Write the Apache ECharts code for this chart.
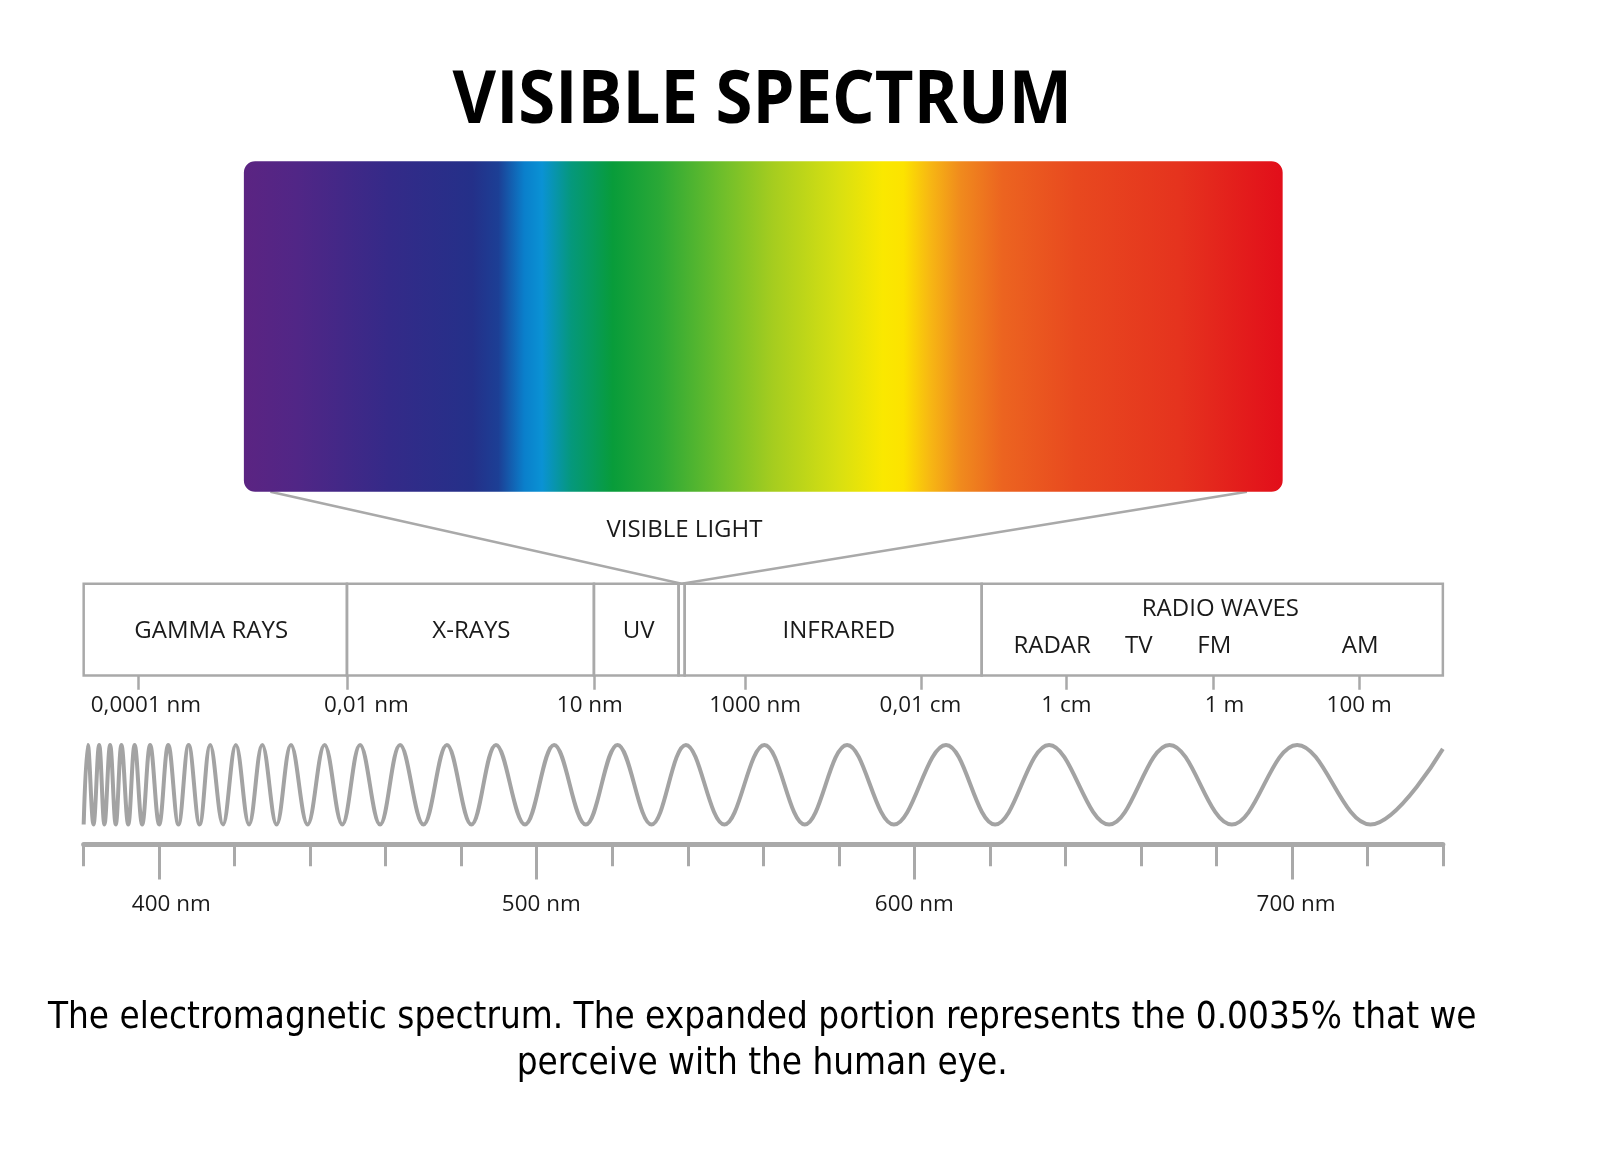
<!DOCTYPE html>
<html><head><meta charset="utf-8">
<script src="https://cdn.jsdelivr.net/npm/echarts@6/dist/echarts.min.js"></script>
<style>html,body{margin:0;padding:0;background:#fff}#c{width:1600px;height:1153px}</style>
</head><body><div id="c"></div><script>
// ---------- data ----------
const titleText = 'VISIBLE SPECTRUM';
const captionLines = ['The electromagnetic spectrum. The expanded portion represents the 0.0035% that we', 'perceive with the human eye.'];
const visibleLabel = 'VISIBLE LIGHT';

// colour stops across the expanded (visible) band
const spectrumOffsets = [0, 0.05, 0.14, 0.22, 0.245, 0.27, 0.287, 0.315, 0.355, 0.40, 0.46, 0.51, 0.57, 0.615, 0.635, 0.66, 0.69, 0.73, 0.80, 0.90, 1];
const spectrumColors = ['#5b2482', '#512686', '#342a88', '#243089', '#1c3f95', '#0a7fcb', '#0a92d4', '#05987c', '#089c3a', '#2aa836', '#6ebe2b', '#a6cd1f', '#d6df12', '#fae800', '#fce300', '#f7b813', '#f08a1d', '#ec6420', '#e8491f', '#e5331e', '#e20e1a'];
// where the "zoom" lines leave the spectrum (fraction of its width)
const zoomAnchors = [0.0255, 0.9656];

// electromagnetic bands on a 0-100 position scale
const bandNames = ['GAMMA RAYS', 'X-RAYS', 'UV', '', 'INFRARED', 'RADIO WAVES'];
const bandStart = [0, 19.37, 37.54, 43.77, 44.22, 66.07];
const bandEnd = [19.37, 37.54, 43.77, 44.22, 66.07, 100];
const bandLabelPos = [9.38, 28.53, 40.84, 44.2, 55.56, 83.63];
const visibleBandIndex = 3;
const radioSubNames = ['RADAR', 'TV', 'FM', 'AM'];
const radioSubPos = [71.25, 77.63, 83.18, 93.92];
const emTickPos = [4.05, 19.37, 37.54, 48.65, 61.64, 72.3, 83.1, 93.84];
const emLabelPos = [4.58, 20.8, 37.24, 49.4, 61.56, 72.3, 83.93, 93.84];
const emTickLabels = ['0,0001 nm', '0,01 nm', '10 nm', '1000 nm', '0,01 cm', '1 cm', '1 m', '100 m'];

// wave extrema (position in nm along the lower scale, level -1 trough / 1 crest)
const waveX = [380.0, 381.1, 382.6, 384.1, 385.5, 387.0, 388.5, 390.0, 391.8, 393.5, 395.5, 397.6, 400.0, 402.4, 405.1, 407.8, 410.7, 413.5, 416.9, 420.3, 423.8, 427.3, 431.1, 434.9, 439.3, 443.8, 448.5, 453.2, 458.5, 463.8, 470.0, 476.2, 482.7, 489.2, 496.9, 504.6, 513.0, 521.4, 530.4, 539.5, 549.7, 560.3, 571.0, 582.2, 594.6, 608.4, 621.4, 635.7, 651.6, 667.6, 684.1, 701.4, 720.8, 740.0];
const waveY = [-1, 1, -1, 1, -1, 1, -1, 1, -1, 1, -1, 1, -1, 1, -1, 1, -1, 1, -1, 1, -1, 1, -1, 1, -1, 1, -1, 1, -1, 1, -1, 1, -1, 1, -1, 1, -1, 1, -1, 1, -1, 1, -1, 1, -1, 1, -1, 1, -1, 1, -1, 1, -1, 0.9];

// visible wavelength scale
const nmMin = 380, nmMax = 740, nmMinorStep = 20;
const nmMajorTicks = [400, 500, 600, 700];
const nmLabelPos = [403.2, 501.2, 600, 701.1];
const nmMajorLabels = ['400 nm', '500 nm', '600 nm', '700 nm'];

// ---------- layout ----------
const S = 1600 / 1568;           // layout measured on a 1568-wide view
const L = v => v * S;
const GRAY = '#a9a9a9';
const INK = '#1a1a1a';
const FONT = '"Open Sans", "Noto Sans", sans-serif';
const LABEL_FONT = Math.round(L(24)) + 'px ' + FONT;
const chart = echarts.init(document.getElementById('c'));

const gradient = new echarts.graphic.LinearGradient(0, 0, 1, 0,
  spectrumOffsets.map((o, i) => ({ offset: o, color: spectrumColors[i] })));

function pick(list, labels) {
  return v => { const i = list.findIndex(p => Math.abs(p - v) < 1e-6); return i >= 0 ? labels[i] : ''; };
}

const option = {
  animation: false,
  backgroundColor: '#ffffff',
  grid: [
    { left: L(239), top: L(158), width: L(1018), height: L(324) },
    { left: L(82), top: L(572), width: L(1332), height: L(90) },
    { left: L(82), top: L(730), width: L(1332), height: L(78) },
    { left: L(82), top: L(826), width: L(1332), height: L(1) },
    { left: L(82), top: L(826), width: L(1332), height: L(1) }
  ],
  xAxis: [
    { gridIndex: 0, type: 'value', min: 0, max: 1, show: false },
    { gridIndex: 1, type: 'value', min: 0, max: 100,
      axisLine: { show: false }, splitLine: { show: false },
      axisTick: { show: true, customValues: emTickPos, length: L(14), lineStyle: { color: GRAY, width: 2.5 } },
      axisLabel: { show: true, customValues: emLabelPos, formatter: pick(emLabelPos, emTickLabels), margin: L(19), fontSize: L(22), color: INK, fontFamily: FONT } },
    { gridIndex: 2, type: 'value', min: nmMin, max: nmMax, show: false },
    { gridIndex: 3, type: 'value', min: nmMin, max: nmMax, interval: nmMinorStep, position: 'bottom',
      axisLine: { show: true, onZero: false, lineStyle: { color: GRAY, width: 5 } },
      axisTick: { show: true, length: L(22), lineStyle: { color: GRAY, width: 3 } },
      axisLabel: { show: false }, splitLine: { show: false } },
    { gridIndex: 4, type: 'value', min: nmMin, max: nmMax, position: 'bottom',
      axisLine: { show: false }, splitLine: { show: false },
      axisTick: { show: true, customValues: nmMajorTicks, length: L(35), lineStyle: { color: GRAY, width: 3 } },
      axisLabel: { show: true, customValues: nmLabelPos, formatter: pick(nmLabelPos, nmMajorLabels), margin: L(49), fontSize: L(22), color: INK, fontFamily: FONT } }
  ],
  yAxis: [
    { gridIndex: 0, type: 'value', min: 0, max: 1, show: false },
    { gridIndex: 1, type: 'value', min: 0, max: 1, show: false },
    { gridIndex: 2, type: 'value', min: -1, max: 1, show: false },
    { gridIndex: 3, type: 'value', min: 0, max: 1, show: false },
    { gridIndex: 4, type: 'value', min: 0, max: 1, show: false }
  ],
  series: [
    { type: 'custom', xAxisIndex: 0, yAxisIndex: 0, clip: false, silent: true,
      data: [[0, 1]],
      renderItem: (params, api) => {
        const p0 = api.coord([api.value(0), 1]);
        const p1 = api.coord([api.value(1), 0]);
        return { type: 'rect', shape: { x: p0[0], y: p0[1], width: p1[0] - p0[0], height: p1[1] - p0[1], r: L(11) }, style: { fill: gradient } };
      } },
    { type: 'custom', xAxisIndex: 1, yAxisIndex: 1, clip: false, silent: true,
      data: bandStart.map((s, i) => [s, bandEnd[i], i, bandLabelPos[i]]),
      renderItem: (params, api) => {
        const i = api.value(2);
        const p0 = api.coord([api.value(0), 1]);
        const p1 = api.coord([api.value(1), 0]);
        const lx = api.coord([api.value(3), 0])[0];
        const children = [{ type: 'rect', shape: { x: p0[0], y: p0[1], width: p1[0] - p0[0], height: p1[1] - p0[1] },
          style: { fill: 'none', stroke: GRAY, lineWidth: 2.5 } }];
        const name = bandNames[i];
        if (name) {
          const isRadio = i === bandNames.length - 1;
          children.push({ type: 'text', style: { x: lx, y: isRadio ? p0[1] + L(25) : (p0[1] + p1[1]) / 2 + L(2), text: name,
            fill: INK, font: LABEL_FONT, align: 'center', verticalAlign: 'middle' } });
        }
        if (i === visibleBandIndex) {
          children.push({ type: 'text', style: { x: lx, y: p0[1] - L(52), text: visibleLabel,
            fill: INK, font: LABEL_FONT, align: 'center', verticalAlign: 'middle' } });
        }
        return { type: 'group', children };
      } },
    { type: 'custom', xAxisIndex: 1, yAxisIndex: 1, clip: false, silent: true,
      data: radioSubPos.map((p, i) => [p, i]),
      renderItem: (params, api) => {
        const p = api.coord([api.value(0), 0]);
        return { type: 'text', style: { x: p[0], y: p[1] - L(29), text: radioSubNames[api.value(1)],
          fill: INK, font: LABEL_FONT, align: 'center', verticalAlign: 'middle' } };
      } },
    { type: 'line', xAxisIndex: 2, yAxisIndex: 2, clip: false, silent: true,
      data: waveX.map((x, i) => [x, waveY[i]]),
      smooth: 0.38, showSymbol: false, symbol: 'none',
      lineStyle: { color: '#a3a3a3', width: 4 } }
  ]
};
chart.setOption(option);

// text measurement to match the reference widths
const ctx = document.createElement('canvas').getContext('2d');
function measure(font, text) { ctx.font = font; return ctx.measureText(text).width; }
const titleFont = 'bold ' + Math.round(L(73)) + 'px "Open Sans"';
const titleScale = L(607) / measure(titleFont, titleText);
const capFont = Math.round(L(37)) + 'px "DejaVu Sans"';
const capScale = L(1400) / measure(capFont, captionLines[0]);

const a0 = chart.convertToPixel({ gridIndex: 0 }, [zoomAnchors[0], 0]);
const a1 = chart.convertToPixel({ gridIndex: 0 }, [zoomAnchors[1], 0]);
const vis = chart.convertToPixel({ gridIndex: 1 }, [(bandStart[visibleBandIndex] + bandEnd[visibleBandIndex]) / 2, 1]);

chart.setOption({
  graphic: { elements: [
    { type: 'text', x: L(747), y: L(100), scaleX: titleScale, silent: true,
      style: { text: titleText, font: titleFont, fill: '#000', align: 'center', verticalAlign: 'middle' } },
    { type: 'text', x: L(747), y: L(998), scaleX: capScale, silent: true,
      style: { text: captionLines[0], font: capFont, fill: '#000', align: 'center', verticalAlign: 'middle' } },
    { type: 'text', x: L(747), y: L(1043), scaleX: capScale, silent: true,
      style: { text: captionLines[1], font: capFont, fill: '#000', align: 'center', verticalAlign: 'middle' } },
    { type: 'polyline', silent: true, shape: { points: [a0, vis, a1] }, style: { stroke: GRAY, lineWidth: 2.5, fill: 'none' } }
  ] }
});
</script></body></html>
